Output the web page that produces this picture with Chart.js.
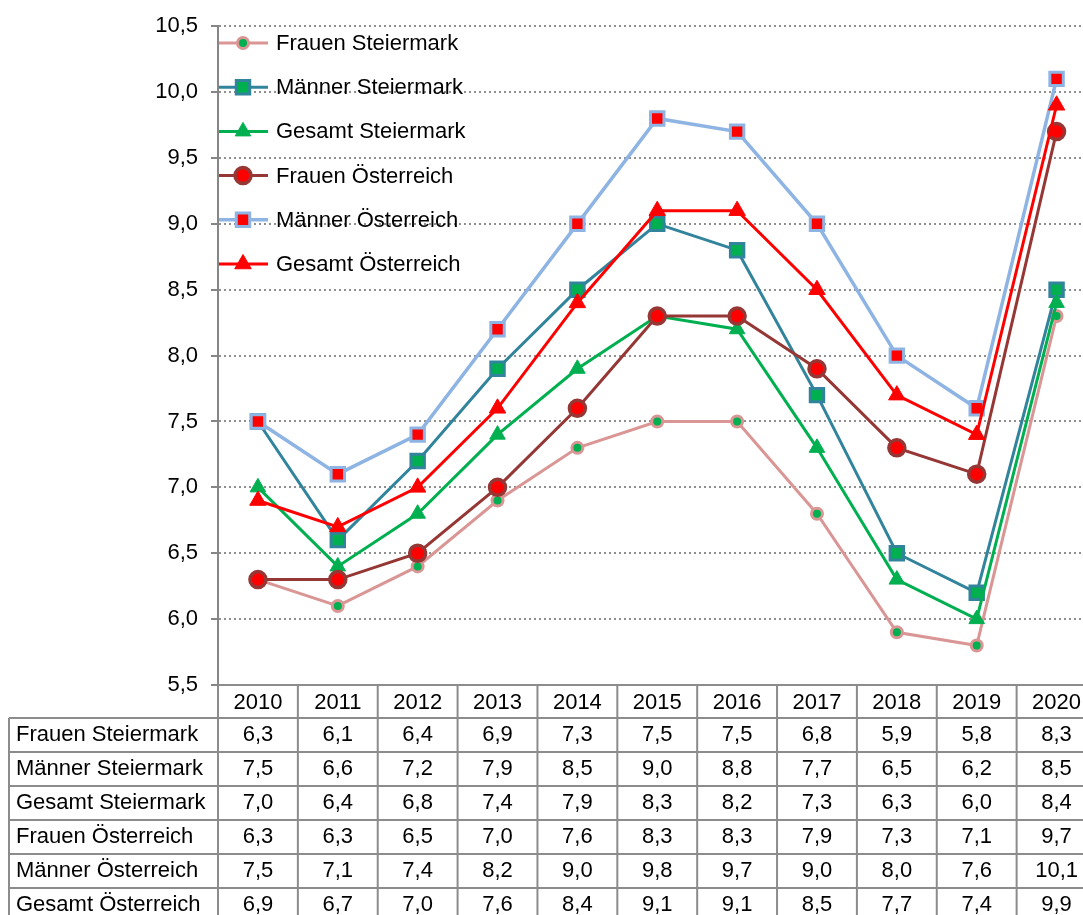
<!DOCTYPE html>
<html lang="de">
<head>
<meta charset="utf-8">
<title>Steiermark / Österreich 2010-2020</title>
<script src="https://cdn.jsdelivr.net/npm/chart.js@4.4.1/dist/chart.umd.min.js"></script>
<style>
  html, body { margin: 0; padding: 0; background: #fff; overflow: hidden; }
  canvas { display: block; }
</style>
</head>
<body>
<canvas id="lineChart" width="1109" height="915"></canvas>
<script>
const years = ["2010", "2011", "2012", "2013", "2014", "2015", "2016", "2017", "2018", "2019", "2020"];
const seriesNames = [
    "Frauen Steiermark",
    "Männer Steiermark",
    "Gesamt Steiermark",
    "Frauen Österreich",
    "Männer Österreich",
    "Gesamt Österreich"
];
const frauenSteiermark = [6.3, 6.1, 6.4, 6.9, 7.3, 7.5, 7.5, 6.8, 5.9, 5.8, 8.3];
const maennerSteiermark = [7.5, 6.6, 7.2, 7.9, 8.5, 9.0, 8.8, 7.7, 6.5, 6.2, 8.5];
const gesamtSteiermark = [7.0, 6.4, 6.8, 7.4, 7.9, 8.3, 8.2, 7.3, 6.3, 6.0, 8.4];
const frauenOesterreich = [6.3, 6.3, 6.5, 7.0, 7.6, 8.3, 8.3, 7.9, 7.3, 7.1, 9.7];
const maennerOesterreich = [7.5, 7.1, 7.4, 8.2, 9.0, 9.8, 9.7, 9.0, 8.0, 7.6, 10.1];
const gesamtOesterreich = [6.9, 6.7, 7.0, 7.6, 8.4, 9.1, 9.1, 8.5, 7.7, 7.4, 9.9];
const yTicks = [5.5, 6.0, 6.5, 7.0, 7.5, 8.0, 8.5, 9.0, 9.5, 10.0, 10.5];

const FONT = "'Liberation Sans', Arial, sans-serif";
const fmt = v => v.toFixed(1).replace(".", ",");

document.addEventListener("DOMContentLoaded", function () {

    const rows = [frauenSteiermark, maennerSteiermark, gesamtSteiermark,
                  frauenOesterreich, maennerOesterreich, gesamtOesterreich];

    // legend drawn inside the plot, top left, line + marker like Excel
    const legendPlugin = {
        id: "innerLegend",
        afterDraw(chart) {
            const ctx = chart.ctx;
            const left = chart.chartArea.left;
            ctx.save();
            chart.data.datasets.forEach((ds, i) => {
                const y = 43 + i * 44.2;
                ctx.strokeStyle = ds.borderColor;
                ctx.lineWidth = ds.borderWidth;
                ctx.beginPath();
                ctx.moveTo(left + 1, y);
                ctx.lineTo(left + 50, y);
                ctx.stroke();
                ctx.fillStyle = ds.pointBackgroundColor;
                ctx.strokeStyle = ds.pointBorderColor;
                ctx.lineWidth = ds.pointBorderWidth;
                Chart.helpers.drawPoint(ctx, {
                    pointStyle: ds.pointStyle,
                    radius: ds.pointRadius,
                    rotation: 0,
                    borderWidth: ds.pointBorderWidth
                }, left + 25, y);
                ctx.fillStyle = "#000";
                ctx.font = "22px " + FONT;
                ctx.textAlign = "left";
                ctx.textBaseline = "middle";
                ctx.fillText(ds.label, left + 58, y + 1);
            });
            ctx.restore();
        }
    };

    // data table under the x axis
    const tablePlugin = {
        id: "dataTable",
        afterDraw(chart) {
            const ctx = chart.ctx;
            const xs = chart.scales.x;
            const area = chart.chartArea;
            const top = area.bottom;
            const headH = 33;
            const rowH = 34;
            const labelLeft = 9;
            const bottom = top + headH + rowH * rows.length;

            const bounds = [];
            for (let i = 0; i <= years.length; i++) {
                if (i === 0) bounds.push(area.left);
                else if (i === years.length) bounds.push(area.right);
                else bounds.push((xs.getPixelForValue(i - 1) + xs.getPixelForValue(i)) / 2);
            }

            ctx.save();
            ctx.strokeStyle = "#8c8c8c";
            ctx.lineWidth = 2;
            ctx.beginPath();
            ctx.moveTo(area.left, top);
            ctx.lineTo(area.right, top);
            for (let r = 0; r <= rows.length; r++) {
                const yy = top + headH + r * rowH;
                ctx.moveTo(labelLeft, yy);
                ctx.lineTo(area.right, yy);
            }
            bounds.forEach(b => {
                ctx.moveTo(b, top);
                ctx.lineTo(b, bottom);
            });
            ctx.moveTo(labelLeft, top + headH);
            ctx.lineTo(labelLeft, bottom);
            ctx.stroke();

            ctx.fillStyle = "#000";
            ctx.font = "22px " + FONT;
            ctx.textBaseline = "middle";
            rows.forEach((row, r) => {
                const cy = top + headH + r * rowH + rowH / 2;
                ctx.textAlign = "left";
                ctx.fillText(seriesNames[r], 16, cy);
                ctx.textAlign = "center";
                row.forEach((v, i) => ctx.fillText(fmt(v), xs.getPixelForValue(i), cy));
            });
            ctx.restore();
        }
    };

    new Chart(document.getElementById("lineChart"), {
        type: "line",
        data: {
            labels: years,
            datasets: [
                {
                    label: seriesNames[0],
                    data: frauenSteiermark,
                    borderColor: "#D99694",
                    borderWidth: 3,
                    pointStyle: "circle",
                    pointRadius: 5.5,
                    pointBorderWidth: 3,
                    pointBorderColor: "#D99694",
                    pointBackgroundColor: "#00B050",
                    order: 6
                },
                {
                    label: seriesNames[1],
                    data: maennerSteiermark,
                    borderColor: "#31849B",
                    borderWidth: 3,
                    pointStyle: "rect",
                    pointRadius: 9.5,
                    pointBorderWidth: 3,
                    pointBorderColor: "#31849B",
                    pointBackgroundColor: "#00B050",
                    order: 5
                },
                {
                    label: seriesNames[2],
                    data: gesamtSteiermark,
                    borderColor: "#00B050",
                    borderWidth: 3,
                    pointStyle: "triangle",
                    pointRadius: 9,
                    pointBorderWidth: 1,
                    pointBorderColor: "#00B050",
                    pointBackgroundColor: "#00B050",
                    order: 4
                },
                {
                    label: seriesNames[3],
                    data: frauenOesterreich,
                    borderColor: "#953735",
                    borderWidth: 3,
                    pointStyle: "circle",
                    pointRadius: 8,
                    pointBorderWidth: 3.5,
                    pointBorderColor: "#953735",
                    pointBackgroundColor: "#FF0000",
                    order: 3
                },
                {
                    label: seriesNames[4],
                    data: maennerOesterreich,
                    borderColor: "#8EB4E3",
                    borderWidth: 3.5,
                    pointStyle: "rect",
                    pointRadius: 9.5,
                    pointBorderWidth: 3,
                    pointBorderColor: "#8EB4E3",
                    pointBackgroundColor: "#FF0000",
                    order: 2
                },
                {
                    label: seriesNames[5],
                    data: gesamtOesterreich,
                    borderColor: "#FF0000",
                    borderWidth: 3,
                    pointStyle: "triangle",
                    pointRadius: 9.5,
                    pointBorderWidth: 1,
                    pointBorderColor: "#FF0000",
                    pointBackgroundColor: "#FF0000",
                    order: 1
                }
            ]
        },
        options: {
            responsive: false,
            animation: false,
            layout: { padding: { left: 0, top: 25, right: 4, bottom: 0 } },
            elements: { line: { tension: 0, fill: false } },
            plugins: {
                legend: { display: false },
                tooltip: { enabled: false }
            },
            scales: {
                x: {
                    offset: true,
                    afterFit: scale => { scale.height = 230; },
                    grid: { display: false },
                    border: { display: false },
                    ticks: {
                        color: "#000",
                        padding: -3,
                        maxRotation: 0,
                        font: { size: 22, family: FONT }
                    }
                },
                y: {
                    min: yTicks[0],
                    max: yTicks[yTicks.length - 1],
                    afterFit: scale => { scale.width = 218; },
                    afterBuildTicks: scale => { scale.ticks = yTicks.map(v => ({ value: v })); },
                    border: { display: true, color: "#868686", width: 2, dash: [2, 3] },
                    grid: {
                        color: "#8f8f8f",
                        lineWidth: 2,
                        drawTicks: true,
                        tickLength: 7,
                        tickBorderDash: [],
                        tickColor: "#868686",
                        tickWidth: 2
                    },
                    ticks: {
                        color: "#000",
                        padding: 13,
                        font: { size: 22, family: FONT },
                        callback: v => fmt(v)
                    }
                }
            }
        },
        plugins: [tablePlugin, legendPlugin]
    });

});
</script>
</body>
</html>
